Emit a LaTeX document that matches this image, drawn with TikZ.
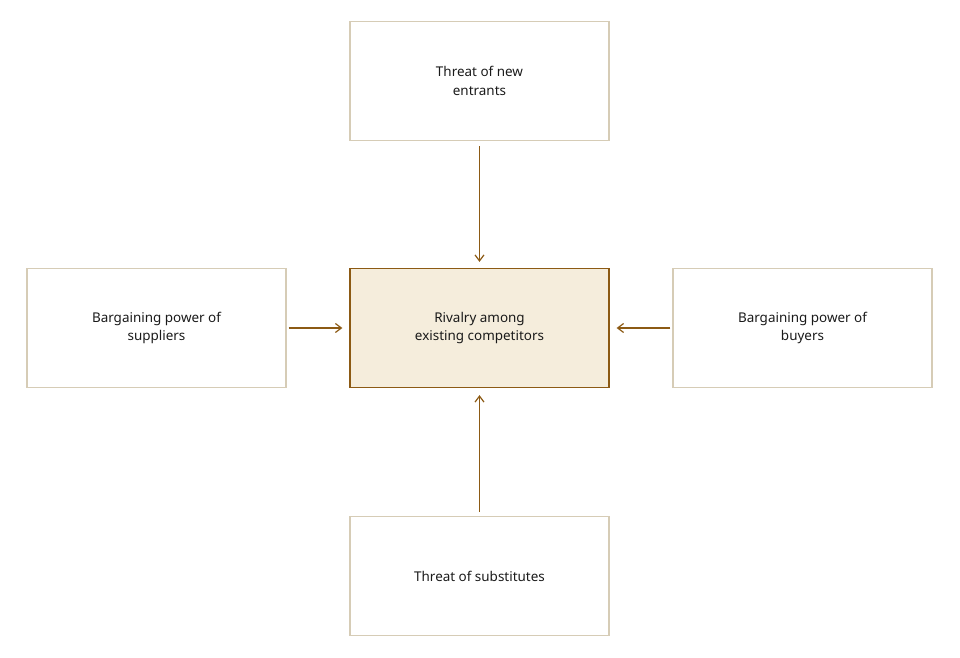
\documentclass[tikz,border=0pt]{standalone}
\usepackage{fontspec}
\setmainfont{Noto Sans}
\usetikzlibrary{positioning,arrows.meta}
\definecolor{boxline}{HTML}{D6CCB6}
\definecolor{accent}{HTML}{8C5A14}
\definecolor{accentfill}{HTML}{F5EDDC}
\definecolor{ink}{HTML}{1A1A1A}
\begin{document}
\begin{tikzpicture}[x=1bp,y=-1bp,
  force/.style={draw=boxline, line width=1.2bp, minimum width=259bp, minimum height=119bp,
    align=center, text=ink, font=\fontsize{13.5}{19}\selectfont, inner sep=0pt},
  rivalry/.style={force, draw=accent, fill=accentfill, font=\fontsize{13.5}{19}\selectfont\bfseries},
  push/.style={draw=accent, line width=1.2bp, -{Straight Barb[length=6bp,width=9bp]}}]

  \useasboundingbox (0,0) rectangle (960,658);

	    \node[rivalry] (rv) at (479.5,328) {Rivalry among\\existing competitors};
	    \node[force] (ne) at (479.5,81) {Threat of new\\entrants};
	    \node[force] (sp) at (156.5,328) {Bargaining power of\\suppliers};
	    \node[force] (by) at (802.5,328) {Bargaining power of\\buyers};
	    \node[force] (sb) at (479.5,576) {Threat of substitutes};

	    \draw[push] ([yshift=-5bp]ne.south) -- ([yshift=6bp]rv.north);
	    \draw[push] ([xshift=2bp]sp.east) -- ([xshift=-7bp]rv.west);
	    \draw[push] ([xshift=-2bp]by.west) -- ([xshift=7bp]rv.east);
	    \draw[push] ([yshift=4bp]sb.north) -- ([yshift=-7bp]rv.south);

\end{tikzpicture}
\end{document}
